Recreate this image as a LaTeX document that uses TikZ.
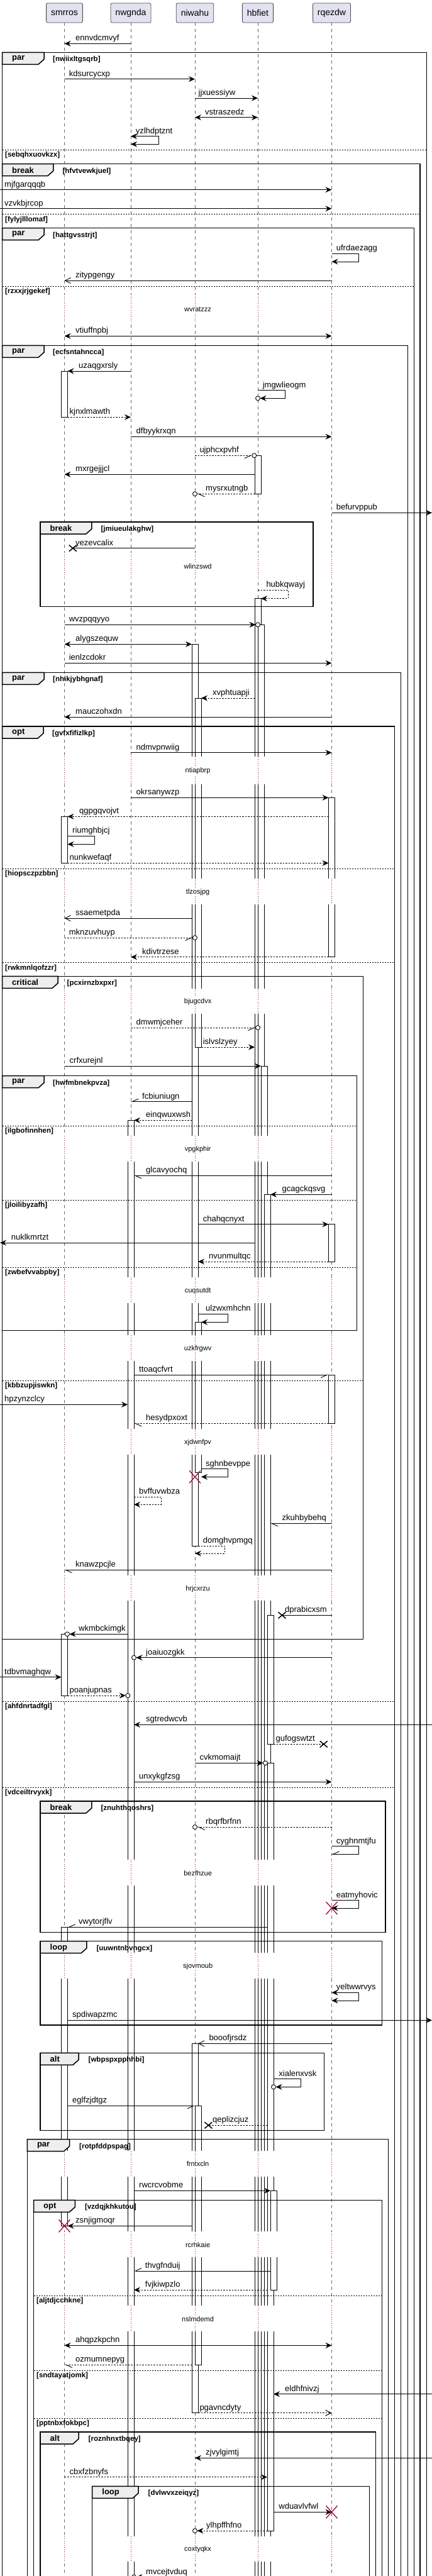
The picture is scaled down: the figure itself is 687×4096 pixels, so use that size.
\documentclass[tikz,border=0pt]{standalone}
\usepackage{fontspec}
\setmainfont{Liberation Sans}
\usetikzlibrary{arrows.meta, calc}
\definecolor{headfill}{RGB}{226, 226, 240}
\definecolor{tabfill}{RGB}{238, 238, 238}
\definecolor{delayred}{RGB}{168, 0, 54}
\tikzstyle{partbox} = [rectangle, rounded corners=2.5pt, draw=black!70, fill=headfill,
                       line width=0.8pt, minimum height=31pt, inner xsep=7.5pt,
                       font=\fontsize{14}{16}\selectfont]
\tikzstyle{lifeline} = [draw=black!60, line width=0.5pt, dash pattern=on 5pt off 5pt]
\tikzstyle{delayline} = [draw=delayred, line width=0.6pt, dash pattern=on 1pt off 2.5pt]
\tikzstyle{delaytext} = [fill=white, inner sep=1pt, font=\fontsize{11}{13}\selectfont]
\tikzstyle{actbar} = [draw=black, fill=white, line width=0.8pt]
\tikzstyle{grpframe} = [draw=black, line width=1.5pt]
\tikzstyle{grptab} = [draw=black, fill=tabfill, line width=1.5pt]
\tikzstyle{grpkind} = [anchor=west, inner sep=0pt, font=\bfseries\fontsize{13}{15}\selectfont]
\tikzstyle{grpcond} = [anchor=west, inner sep=0pt, font=\bfseries\fontsize{11.5}{13}\selectfont]
\tikzstyle{grpsep} = [draw=black, line width=0.9pt, dash pattern=on 2pt off 2pt]
\tikzstyle{msglabel} = [anchor=base west, yshift=4.5pt, inner sep=0pt,
                        font=\fontsize{13}{15}\selectfont]
\tikzstyle{plainmsg} = [draw=black, line width=0.9pt]
\tikzstyle{retline} = [dash pattern=on 2.5pt off 2pt]
\tikzstyle{msg} = [plainmsg, -{Stealth[length=10pt,width=9pt,inset=3.5pt]}]
\tikzstyle{ret} = [msg, retline]
\tikzstyle{bimsg} = [plainmsg, {Stealth[length=10pt,width=9pt,inset=3.5pt]}-{Stealth[length=10pt,width=9pt,inset=3.5pt]}]
\tikzstyle{openmsg} = [plainmsg, -{Straight Barb[length=9pt,width=9pt]}]
\tikzstyle{halfmsg} = [plainmsg, -{Straight Barb[harpoon,length=10pt,width=9pt]}]
\tikzstyle{halfmsgsw} = [plainmsg, -{Straight Barb[harpoon,swap,length=10pt,width=9pt]}]
\tikzstyle{ring} = [draw=black, fill=white, line width=0.9pt]
\tikzstyle{kill} = [draw=black, line width=1.5pt]
\tikzstyle{killred} = [draw=delayred, line width=1.3pt]

\begin{document}
\begin{tikzpicture}[x=1pt, y=-1pt]
        \path[use as bounding box] (0,0) rectangle (687,4096);
        \clip (0,0) rectangle (687,4096);
        \fill[white] (0,0) rectangle (687,4096);

        \node[partbox] (smrros) at (102.5,20.5) {smrros};
        \node[partbox] (nwgnda) at (208,20.5) {nwgnda};
        \node[partbox] (niwahu) at (310,20.5) {niwahu};
        \node[partbox] (hbfiet) at (410,20.5) {hbfiet};
        \node[partbox] (rqezdw) at (527.5,20.5) {rqezdw};
        \coordinate (lft) at (0,0);
        \coordinate (rgt) at (687,0);

        \foreach \p in {smrros,nwgnda,niwahu,hbfiet,rqezdw}
            \draw[lifeline] (\p.south) -- (\p |- 0,4110);

        % activations
        \foreach \xa/\ya/\yb in {97.5/590/663.3, 97.5/1298.3/1372.3, 97.5/2598.3/2696, 97.5/3064.3/3539.3,
                203/1781.3/4110, 305/1024.3/2458.3, 305/3249.3/3836.7,
                310/1110/1665, 310/2102.3/2341, 310/3348.3/3760,
                405/724.3/785.3, 405/951.7/4110, 410/993.3/4110, 415/1695/4110, 420/1899.3/4110,
                425/2568.3/2773.3, 425/2803.3/4024, 430/3483.3/3641,
                522.5/1268.3/1521.7, 522.5/1946.7/2006, 522.5/2186/2263.3}
            \draw[actbar] (\xa,\ya) rectangle (\xa+10,\yb);

        % delays
        \foreach \ya/\yb/\ty/\txt in {468/513/492.3/wvratzzz, 878/920/901/wlinzswd,
                1203.3/1246.7/1226/ntiapbrp, 1396.7/1438.3/1418.3/tlzosjpg,
                1571.7/1612.3/1592.3/bjugcdvx, 1806/1846.7/1827.3/vpgkphir,
                2030.5/2072.3/2052.3/cuqsutdt, 2122.7/2164/2144.3/uzkfrgwv,
                2271.7/2313.3/2293.3/xjdwnfpv, 2505/2545/2526.7/hrjcxrzu,
                2956.7/2998.3/2978.3/bezfhzue, 3105/3146/3126.7/sjovmoub,
                3420/3461/3441/frntxcln, 3548.3/3589/3569.3/rcrhkaie,
                3666/3706.7/3687.3/nslmdemd, 4032.7/4073.3/4054/coxtyqkx} {
            \fill[white] (95,\ya) rectangle (445,\yb);
            \fill[white] (518,\ya) rectangle (538,\yb);
            \foreach \p in {smrros,nwgnda,niwahu,hbfiet,rqezdw}
                \draw[delayline] (\p |- 0,\ya) -- (\p |- 0,\yb);
            \node[delaytext] (\txt) at (314.6,\ty) {\txt};
        }

        % groups
        \foreach \xa/\xb/\ya/\yb in {64/498/830/964.3, 3.5/577.6/1552.3/2606.7, 3.5/567.4/1710.7/2115.7,
                64/613/2864/3072.3, 64/607.6/3086.7/3220, 64/515.7/3264.3/3387.3}
            \draw[grpframe] (\xa,\ya) rectangle (\xb,\yb);
        \foreach \xa/\xb/\ya in {3.5/678.3/83.3, 3.5/668/260.7, 3.5/658.4/362.7, 3.5/648.3/549.3,
                3.5/637.6/1069.3, 3.5/627.5/1155, 43.3/617.3/3401.7, 53.5/607.6/3498.3,
                64/597.4/3867, 146.7/587.7/3953.3}
            \draw[grpframe] (\xa,4110) -- (\xa,\ya) -- (\xb,\ya) -- (\xb,4110);
        \foreach \xa/\xb/\ya/\kind/\cond/\cx in {3.5/70/83.3/par/nwiixltgsqrb/84,
                3.5/84.8/260.7/break/hfvtvewkjuel/99.4, 3.5/70/362.7/par/hattgvsstrjt/84,
                3.5/70/549.3/par/ecfsntahncca/84, 64/145.8/830/break/jmiueulakghw/160.4,
                3.5/70/1069.3/par/nhikjybhgnaf/84, 3.5/69/1155/opt/gvfxfifizlkp/83,
                3.5/92/1552.3/critical/pcxirnzbxpxr/106.5, 3.5/70/1710.7/par/hwfmbnekpvza/84,
                64/145.8/2864/break/znuhthqoshrs/160.4, 64/137.9/3086.7/loop/uuwntnbvngcx/153.3,
                64/125/3264.3/alt/wbpspxpphhbi/140.5, 43.3/110.5/3401.7/par/rotpfddpspag/126,
                53.5/119.3/3498.3/opt/vzdqjkhkutou/134.8, 64/125/3867/alt/roznhnxtbqey/140.5,
                146.7/220/3953.3/loop/dvlwvxzeiqyz/235.5} {
            \draw[grptab] (\xa,\ya) -- (\xb,\ya) -- (\xb,\ya+11) -- (\xb-9,\ya+19) -- (\xa,\ya+19) -- cycle;
            \node[grpkind] (tab\cond) at (\xa+15.5,\ya+10) {\kind};
            \node[grpcond] (\cond) at (\cx,\ya+11.5) {[\cond]};
        }
        \foreach \xa/\xb/\y/\cond in {3.5/678.3/238.3/sebqhxuovkzx, 3.5/668/340.7/fylyjlllomaf,
                3.5/658.4/455/rzxxjrjgekef, 3.5/627.5/1381/hiopsczpzbbn, 3.5/627.5/1530.7/rwkmnlqofzzr,
                3.5/567.4/1790/ilgbofinnhen, 3.5/567.4/1908.3/jloilibyzafh, 3.5/567.4/2015/zwbefvvabpby,
                3.5/577.6/2195/kbbzupjiswkn, 3.5/627.5/2705/ahfdnrtadfgl, 3.5/627.5/2842.3/vdceiltrvyxk,
                53.5/607.6/3650/aljtdjcchkne, 53.5/607.6/3769.3/sndtayatjomk,
                53.5/607.6/3845.3/pptnbxfokbpc} {
            \draw[grpsep] (\xa,\y) -- (\xb,\y);
            \node[grpcond] (\cond) at (\xa+4.5,\y+8.5) {[\cond]};
        }

        % messages
        \draw[msg] (nwgnda |- 0,69.3) -- (smrros |- 0,69.3);
        \node[msglabel] (ennvdcmvyf) at (120,69.3) {ennvdcmvyf};

        \draw[msg] (smrros |- 0,125.7) -- (niwahu |- 0,125.7);
        \node[msglabel] (kdsurcycxp) at (109.6,125.7) {kdsurcycxp};

        \draw[msg] (niwahu |- 0,156) -- (hbfiet |- 0,156);
        \node[msglabel] (jjxuessiyw) at (315.5,156) {jjxuessiyw};

        \draw[bimsg] (niwahu |- 0,186.7) -- (hbfiet |- 0,186.7);
        \node[msglabel] (vstraszedz) at (326,186.7) {vstraszedz};

        \draw[bimsg] (nwgnda |- 0,216.7) -- ++(44,0) -- ++(0,12.6) -- (nwgnda |- 0,229.3);
        \node[msglabel] (yzlhdptznt) at (215.6,216.7) {yzlhdptznt};

        \draw[msg] (lft |- 0,301.7) -- (rqezdw |- 0,301.7);
        \node[msglabel] (mjfgarqqqb) at (7,301.7) {mjfgarqqqb};

        \draw[msg] (lft |- 0,331.7) -- (rqezdw |- 0,331.7);
        \node[msglabel] (vzvkbjrcop) at (7,331.7) {vzvkbjrcop};

        \draw[msg] (rqezdw |- 0,403.3) -- ++(42.5,0) -- ++(0,12.7) -- (rqezdw |- 0,416);
        \node[msglabel] (ufrdaezagg) at (534.7,403.3) {ufrdaezagg};

        \draw[openmsg] (rqezdw |- 0,446) -- (smrros |- 0,446);
        \node[msglabel] (zitypgengy) at (120,446) {zitypgengy};

        \draw[bimsg] (smrros |- 0,534.3) -- (rqezdw |- 0,534.3);
        \node[msglabel] (vtiuffnpbj) at (120,534.3) {vtiuffnpbj};

        \draw[msg] (nwgnda |- 0,590) -- ($(smrros |- 0,590)+(5,0)$);
        \node[msglabel] (uzaqgxrsly) at (125,590) {uzaqgxrsly};

        \draw[msg] (hbfiet |- 0,620.7) -- ++(43,0) -- ++(0,12.6) -- ($(hbfiet |- 0,633.3)+(3.5,0)$);
        \node[msglabel] (jmgwlieogm) at (417.6,620.7) {jmgwlieogm};

        \draw[ret] ($(smrros |- 0,663.3)+(5,0)$) -- (nwgnda |- 0,663.3);
        \node[msglabel] (kjnxlmawth) at (110.5,663.3) {kjnxlmawth};

        \draw[msg] (nwgnda |- 0,694.3) -- (rqezdw |- 0,694.3);
        \node[msglabel] (dfbyykrxqn) at (216.5,694.3) {dfbyykrxqn};

        \draw[halfmsgsw, retline] (niwahu |- 0,724.3) -- ($(hbfiet |- 0,724.3)+(-9.2,0)$);
        \node[msglabel] (ujphcxpvhf) at (317.3,724.3) {ujphcxpvhf};

        \draw[msg] ($(hbfiet |- 0,754.3)+(-5,0)$) -- (smrros |- 0,754.3);
        \node[msglabel] (mxrgejjjcl) at (120,754.3) {mxrgejjjcl};

        \draw[halfmsg, retline] ($(hbfiet |- 0,785.3)+(-5,0)$) -- ($(niwahu |- 0,785.3)+(3.5,0)$);
        \node[msglabel] (mysrxutngb) at (327,785.3) {mysrxutngb};

        \draw[msg] (rqezdw |- 0,815.3) -- (rgt |- 0,815.3);
        \node[msglabel] (befurvppub) at (534.7,815.3) {befurvppub};

        \draw[plainmsg] (niwahu |- 0,871.7) -- (115.8,871.7);
        \node[msglabel] (yezevcalix) at (120,871.7) {yezevcalix};

        \draw[ret] (hbfiet |- 0,938.3) -- ++(48,0) -- ++(0,13.4) -- ($(hbfiet |- 0,951.7)+(5,0)$);
        \node[msglabel] (hubkqwayj) at (423.3,938.3) {hubkqwayj};

        \draw[msg] (smrros |- 0,993.3) -- ($(hbfiet |- 0,993.3)+(-3.5,0)$);
        \node[msglabel] (wvzpqqyyo) at (109.6,993.3) {wvzpqqyyo};

        \draw[bimsg] (smrros |- 0,1024.3) -- ($(niwahu |- 0,1024.3)+(-5,0)$);
        \node[msglabel] (alygszequw) at (120,1024.3) {alygszequw};

        \draw[msg] (smrros |- 0,1054.3) -- (rqezdw |- 0,1054.3);
        \node[msglabel] (ienlzcdokr) at (109.6,1054.3) {ienlzcdokr};

        \draw[ret] ($(hbfiet |- 0,1110)+(-5,0)$) -- ($(niwahu |- 0,1110)+(10,0)$);
        \node[msglabel] (xvphtuapji) at (338,1110) {xvphtuapji};

        \draw[msg] (rqezdw |- 0,1140) -- (smrros |- 0,1140);
        \node[msglabel] (mauczohxdn) at (120,1140) {mauczohxdn};

        \draw[msg] (nwgnda |- 0,1196.7) -- (rqezdw |- 0,1196.7);
        \node[msglabel] (ndmvpnwiig) at (216.5,1196.7) {ndmvpnwiig};

        \draw[msg] (nwgnda |- 0,1268.3) -- ($(rqezdw |- 0,1268.3)+(-5,0)$);
        \node[msglabel] (okrsanywzp) at (216.5,1268.3) {okrsanywzp};

        \draw[ret] ($(rqezdw |- 0,1298.3)+(-5,0)$) -- ($(smrros |- 0,1298.3)+(5,0)$);
        \node[msglabel] (qgpgqvojvt) at (126,1298.3) {qgpgqvojvt};

        \draw[msg] ($(smrros |- 0,1329.3)+(5,0)$) -- ++(42.7,0) -- ++(0,13) -- ($(smrros |- 0,1342.3)+(5,0)$);
        \node[msglabel] (riumghbjcj) at (115,1329.3) {riumghbjcj};

        \draw[ret] ($(smrros |- 0,1372.3)+(5,0)$) -- ($(rqezdw |- 0,1372.3)+(-5,0)$);
        \node[msglabel] (nunkwefaqf) at (110.5,1372.3) {nunkwefaqf};

        \draw[openmsg] ($(niwahu |- 0,1460)+(-5,0)$) -- (smrros |- 0,1460);
        \node[msglabel] (ssaemetpda) at (120,1460) {ssaemetpda};

        \draw[halfmsgsw, retline] (smrros |- 0,1491) -- ($(niwahu |- 0,1491)+(-3.5,0)$);
        \node[msglabel] (mknzuvhuyp) at (109.6,1491) {mknzuvhuyp};

        \draw[ret] ($(rqezdw |- 0,1521.7)+(-5,0)$) -- (nwgnda |- 0,1521.7);
        \node[msglabel] (kdivtrzese) at (226,1521.7) {kdivtrzese};

        \draw[halfmsgsw, retline] (nwgnda |- 0,1634) -- ($(hbfiet |- 0,1634)+(-3.5,0)$);
        \node[msglabel] (dmwmjceher) at (216.5,1634) {dmwmjceher};

        \draw[ret] ($(niwahu |- 0,1665)+(10,0)$) -- ($(hbfiet |- 0,1665)+(-5,0)$);
        \node[msglabel] (islvslzyey) at (322.6,1665) {islvslzyey};

        \draw[msg] (smrros |- 0,1695) -- ($(hbfiet |- 0,1695)+(5,0)$);
        \node[msglabel] (crfxurejnl) at (110.5,1695) {crfxurejnl};

        \draw[halfmsgsw] ($(niwahu |- 0,1751.7)+(-5,0)$) -- (nwgnda |- 0,1751.7);
        \node[msglabel] (fcbiuniugn) at (226,1751.7) {fcbiuniugn};

        \draw[ret] ($(niwahu |- 0,1781.3)+(-5,0)$) -- ($(nwgnda |- 0,1781.3)+(5,0)$);
        \node[msglabel] (einqwuxwsh) at (232,1781.3) {einqwuxwsh};

        \draw[halfmsg] (rqezdw |- 0,1869.3) -- ($(nwgnda |- 0,1869.3)+(5,0)$);
        \node[msglabel] (glcavyochq) at (232,1869.3) {glcavyochq};

        \draw[msg] (rqezdw |- 0,1899.3) -- ($(hbfiet |- 0,1899.3)+(20,0)$);
        \node[msglabel] (gcagckqsvg) at (448.5,1899.3) {gcagckqsvg};

        \draw[msg] ($(niwahu |- 0,1946.7)+(5,0)$) -- ($(rqezdw |- 0,1946.7)+(-5,0)$);
        \node[msglabel] (chahqcnyxt) at (322.6,1946.7) {chahqcnyxt};

        \draw[msg] ($(hbfiet |- 0,1976)+(-5,0)$) -- (lft |- 0,1976);
        \node[msglabel] (nuklkmrtzt) at (17.7,1976) {nuklkmrtzt};

        \draw[ret] ($(rqezdw |- 0,2006)+(-5,0)$) -- ($(niwahu |- 0,2006)+(5,0)$);
        \node[msglabel] (nvunmultqc) at (332,2006) {nvunmultqc};

        \draw[msg] ($(niwahu |- 0,2089.3)+(5,0)$) -- ++(47.3,0) -- ++(0,13) -- ($(niwahu |- 0,2102.3)+(10,0)$);
        \node[msglabel] (ulzwxmhchn) at (327,2089.3) {ulzwxmhchn};

        \draw[halfmsgsw] ($(nwgnda |- 0,2186)+(5,0)$) -- ($(rqezdw |- 0,2186)+(-5,0)$);
        \node[msglabel] (ttoaqcfvrt) at (221,2186) {ttoaqcfvrt};

        \draw[msg] (lft |- 0,2233.3) -- ($(nwgnda |- 0,2233.3)+(-5,0)$);
        \node[msglabel] (hpzynzclcy) at (7,2233.3) {hpzynzclcy};

        \draw[halfmsg, retline] ($(rqezdw |- 0,2263.3)+(-5,0)$) -- ($(nwgnda |- 0,2263.3)+(5,0)$);
        \node[msglabel] (hesydpxoxt) at (232,2263.3) {hesydpxoxt};

        \draw[msg] ($(niwahu |- 0,2335.7)+(10,0)$) -- ++(42.3,0) -- ++(0,12.6) -- ($(niwahu |- 0,2348.3)+(10,0)$);
        \node[msglabel] (sghnbevppe) at (327,2335.7) {sghnbevppe};

        \draw[ret] ($(nwgnda |- 0,2380)+(5,0)$) -- ++(43.3,0) -- ++(0,12.3) -- ($(nwgnda |- 0,2392.3)+(5,0)$);
        \node[msglabel] (bvffuvwbza) at (221,2380) {bvffuvwbza};

        \draw[halfmsg] (rqezdw |- 0,2422.3) -- ($(hbfiet |- 0,2422.3)+(20,0)$);
        \node[msglabel] (zkuhbybehq) at (448.5,2422.3) {zkuhbybehq};

        \draw[ret] ($(niwahu |- 0,2458.3)+(5,0)$) -- ++(42,0) -- ++(0,11.7) -- (niwahu |- 0,2470);
        \node[msglabel] (domghvpmgq) at (322.6,2458.3) {domghvpmgq};

        \draw[halfmsg] (rqezdw |- 0,2496.3) -- (smrros |- 0,2496.3);
        \node[msglabel] (knawzpcjle) at (120,2496.3) {knawzpcjle};

        \draw[plainmsg] (rqezdw |- 0,2568.3) -- (448.5,2568.3);
        \node[msglabel] (dprabicxsm) at (453,2568.3) {dprabicxsm};

        \draw[msg] ($(nwgnda |- 0,2598.3)+(-5,0)$) -- ($(smrros |- 0,2598.3)+(8,0)$);
        \node[msglabel] (wkmbckimgk) at (125,2598.3) {wkmbckimgk};

        \draw[msg] (rqezdw |- 0,2635.7) -- ($(nwgnda |- 0,2635.7)+(8.5,0)$);
        \node[msglabel] (joaiuozgkk) at (232,2635.7) {joaiuozgkk};

        \draw[msg] (lft |- 0,2666.7) -- ($(smrros |- 0,2666.7)+(-5,0)$);
        \node[msglabel] (tdbvmaghqw) at (7,2666.7) {tdbvmaghqw};

        \draw[ret] ($(smrros |- 0,2696)+(5,0)$) -- ($(nwgnda |- 0,2696)+(-8.2,0)$);
        \node[msglabel] (poanjupnas) at (110.5,2696) {poanjupnas};

        \draw[msg] (rgt |- 0,2742.3) -- ($(nwgnda |- 0,2742.3)+(5,0)$);
        \node[msglabel] (sgtredwcvb) at (232,2742.3) {sgtredwcvb};

        \draw[plainmsg, retline] ($(hbfiet |- 0,2773.3)+(25,0)$) -- (514.8,2773.3);
        \node[msglabel] (gufogswtzt) at (438.4,2773.3) {gufogswtzt};

        \draw[msg] (niwahu |- 0,2803.3) -- ($(hbfiet |- 0,2803.3)+(8.5,0)$);
        \node[msglabel] (cvkmomaijt) at (317.3,2803.3) {cvkmomaijt};

        \draw[msg] ($(nwgnda |- 0,2833.3)+(5,0)$) -- (rqezdw |- 0,2833.3);
        \node[msglabel] (unxykgfzsg) at (221,2833.3) {unxykgfzsg};

        \draw[halfmsg, retline] (rqezdw |- 0,2905) -- ($(niwahu |- 0,2905)+(3.5,0)$);
        \node[msglabel] (rbqrfbrfnn) at (327,2905) {rbqrfbrfnn};

        \draw[halfmsgsw] (rqezdw |- 0,2935.7) -- ++(42.5,0) -- ++(0,12.6) -- (rqezdw |- 0,2948.3);
        \node[msglabel] (cyghnmtjfu) at (534.7,2935.7) {cyghnmtjfu};

        \draw[msg] (rqezdw |- 0,3021.7) -- ++(42.5,0) -- ++(0,12.3) -- (rqezdw |- 0,3034);
        \node[msglabel] (eatmyhovic) at (534.7,3021.7) {eatmyhovic};

        \draw[halfmsgsw] ($(hbfiet |- 0,3064.3)+(15,0)$) -- ($(smrros |- 0,3064.3)+(5,0)$);
        \node[msglabel] (vwytorjflv) at (125,3064.3) {vwytorjflv};

        \draw[bimsg] (rqezdw |- 0,3168.3) -- ++(42.5,0) -- ++(0,12.7) -- (rqezdw |- 0,3181);
        \node[msglabel] (yeltwwrvys) at (534.7,3168.3) {yeltwwrvys};

        \draw[msg] ($(smrros |- 0,3212.3)+(5,0)$) -- (rgt |- 0,3212.3);
        \node[msglabel] (spdiwapzmc) at (115,3212.3) {spdiwapzmc};

        \draw[openmsg] (rqezdw |- 0,3249.3) -- ($(niwahu |- 0,3249.3)+(5,0)$);
        \node[msglabel] (booofjrsdz) at (332.3,3249.3) {booofjrsdz};

        \draw[msg] ($(hbfiet |- 0,3305.7)+(25,0)$) -- ++(43.6,0) -- ++(0,12.6) -- ($(hbfiet |- 0,3318.3)+(28.5,0)$);
        \node[msglabel] (xialenxvsk) at (443.2,3305.7) {xialenxvsk};

        \draw[halfmsgsw] ($(smrros |- 0,3348.3)+(5,0)$) -- (niwahu |- 0,3348.3);
        \node[msglabel] (eglfzjdtgz) at (115,3348.3) {eglfzjdtgz};

        \draw[plainmsg, retline] ($(hbfiet |- 0,3379.3)+(15,0)$) -- (331.4,3379.3);
        \node[msglabel] (qeplizcjuz) at (338,3379.3) {qeplizcjuz};

        \draw[msg] ($(nwgnda |- 0,3483.3)+(5,0)$) -- ($(hbfiet |- 0,3483.3)+(20,0)$);
        \node[msglabel] (rwcrcvobme) at (221,3483.3) {rwcrcvobme};

        \draw[msg] ($(niwahu |- 0,3539.3)+(-5,0)$) -- ($(smrros |- 0,3539.3)+(5,0)$);
        \node[msglabel] (zsnjigmoqr) at (120,3539.3) {zsnjigmoqr};

        \draw[halfmsgsw] ($(hbfiet |- 0,3611)+(20,0)$) -- ($(nwgnda |- 0,3611)+(5,0)$);
        \node[msglabel] (thvgfnduij) at (230.7,3611) {thvgfnduij};

        \draw[ret] ($(hbfiet |- 0,3641)+(15,0)$) -- ($(nwgnda |- 0,3641)+(5,0)$);
        \node[msglabel] (fvjkiwpzlo) at (230.7,3641) {fvjkiwpzlo};

        \draw[bimsg] (smrros |- 0,3729.3) -- (rqezdw |- 0,3729.3);
        \node[msglabel] (ahqpzkpchn) at (120,3729.3) {ahqpzkpchn};

        \draw[halfmsg, retline] ($(niwahu |- 0,3760)+(-5,0)$) -- (smrros |- 0,3760);
        \node[msglabel] (ozmumnepyg) at (120,3760) {ozmumnepyg};

        \draw[msg] (rgt |- 0,3806.7) -- ($(hbfiet |- 0,3806.7)+(25,0)$);
        \node[msglabel] (eldhfnivzj) at (453,3806.7) {eldhfnivzj};

        \draw[openmsg, retline] ($(niwahu |- 0,3836.7)+(5,0)$) -- (rqezdw |- 0,3836.7);
        \node[msglabel] (pgavncdyty) at (317.3,3836.7) {pgavncdyty};

        \draw[msg] (rgt |- 0,3908.3) -- (niwahu |- 0,3908.3);
        \node[msglabel] (zjvylgimtj) at (327,3908.3) {zjvylgimtj};

        \draw[ret] (smrros |- 0,3938.7) -- ($(hbfiet |- 0,3938.7)+(15,0)$);
        \node[msglabel] (cbxfzbnyfs) at (110.5,3938.7) {cbxfzbnyfs};

        \draw[msg] ($(hbfiet |- 0,3994.3)+(25,0)$) -- (rqezdw |- 0,3994.3);
        \node[msglabel] (wduavlvfwl) at (443.2,3994.3) {wduavlvfwl};

        \draw[ret] ($(hbfiet |- 0,4024)+(15,0)$) -- ($(niwahu |- 0,4024)+(3.5,0)$);
        \node[msglabel] (ylhpffhfno) at (328,4024) {ylhpffhfno};

        \draw[ret] (hbfiet |- 0,4097.5) -- ($(nwgnda |- 0,4097.5)+(8.5,0)$);
        \node[msglabel] (mvcejtvduq) at (232,4097.5) {mvcejtvduq};

        % circle ends and destroy marks
        \foreach \x/\y in {410/633.3, 404.3/724.3, 310/785.3, 410/993.3, 310/1491, 410/1634,
                107/2598.3, 213/2635.7, 203.3/2696, 422/2803.3, 310/2905, 435/3318.3,
                310/4024, 213/4097.5}
            \draw[ring] (\x,\y) circle[radius=3.5pt];
        \foreach \x/\y in {115.8/871.7, 448.5/2568.3, 514.8/2773.3, 331.4/3379.3}
            \draw[kill] (\x-6,\y-5) -- (\x+6,\y+5) (\x-6,\y+5) -- (\x+6,\y-5);
        \foreach \x/\y in {310/2348.3, 527.5/3034, 102.5/3539.3, 527.5/3994.3}
            \draw[killred] (\x-9,\y-10) -- (\x+9,\y+10) (\x-9,\y+10) -- (\x+9,\y-10);

    \end{tikzpicture}
\end{document}
